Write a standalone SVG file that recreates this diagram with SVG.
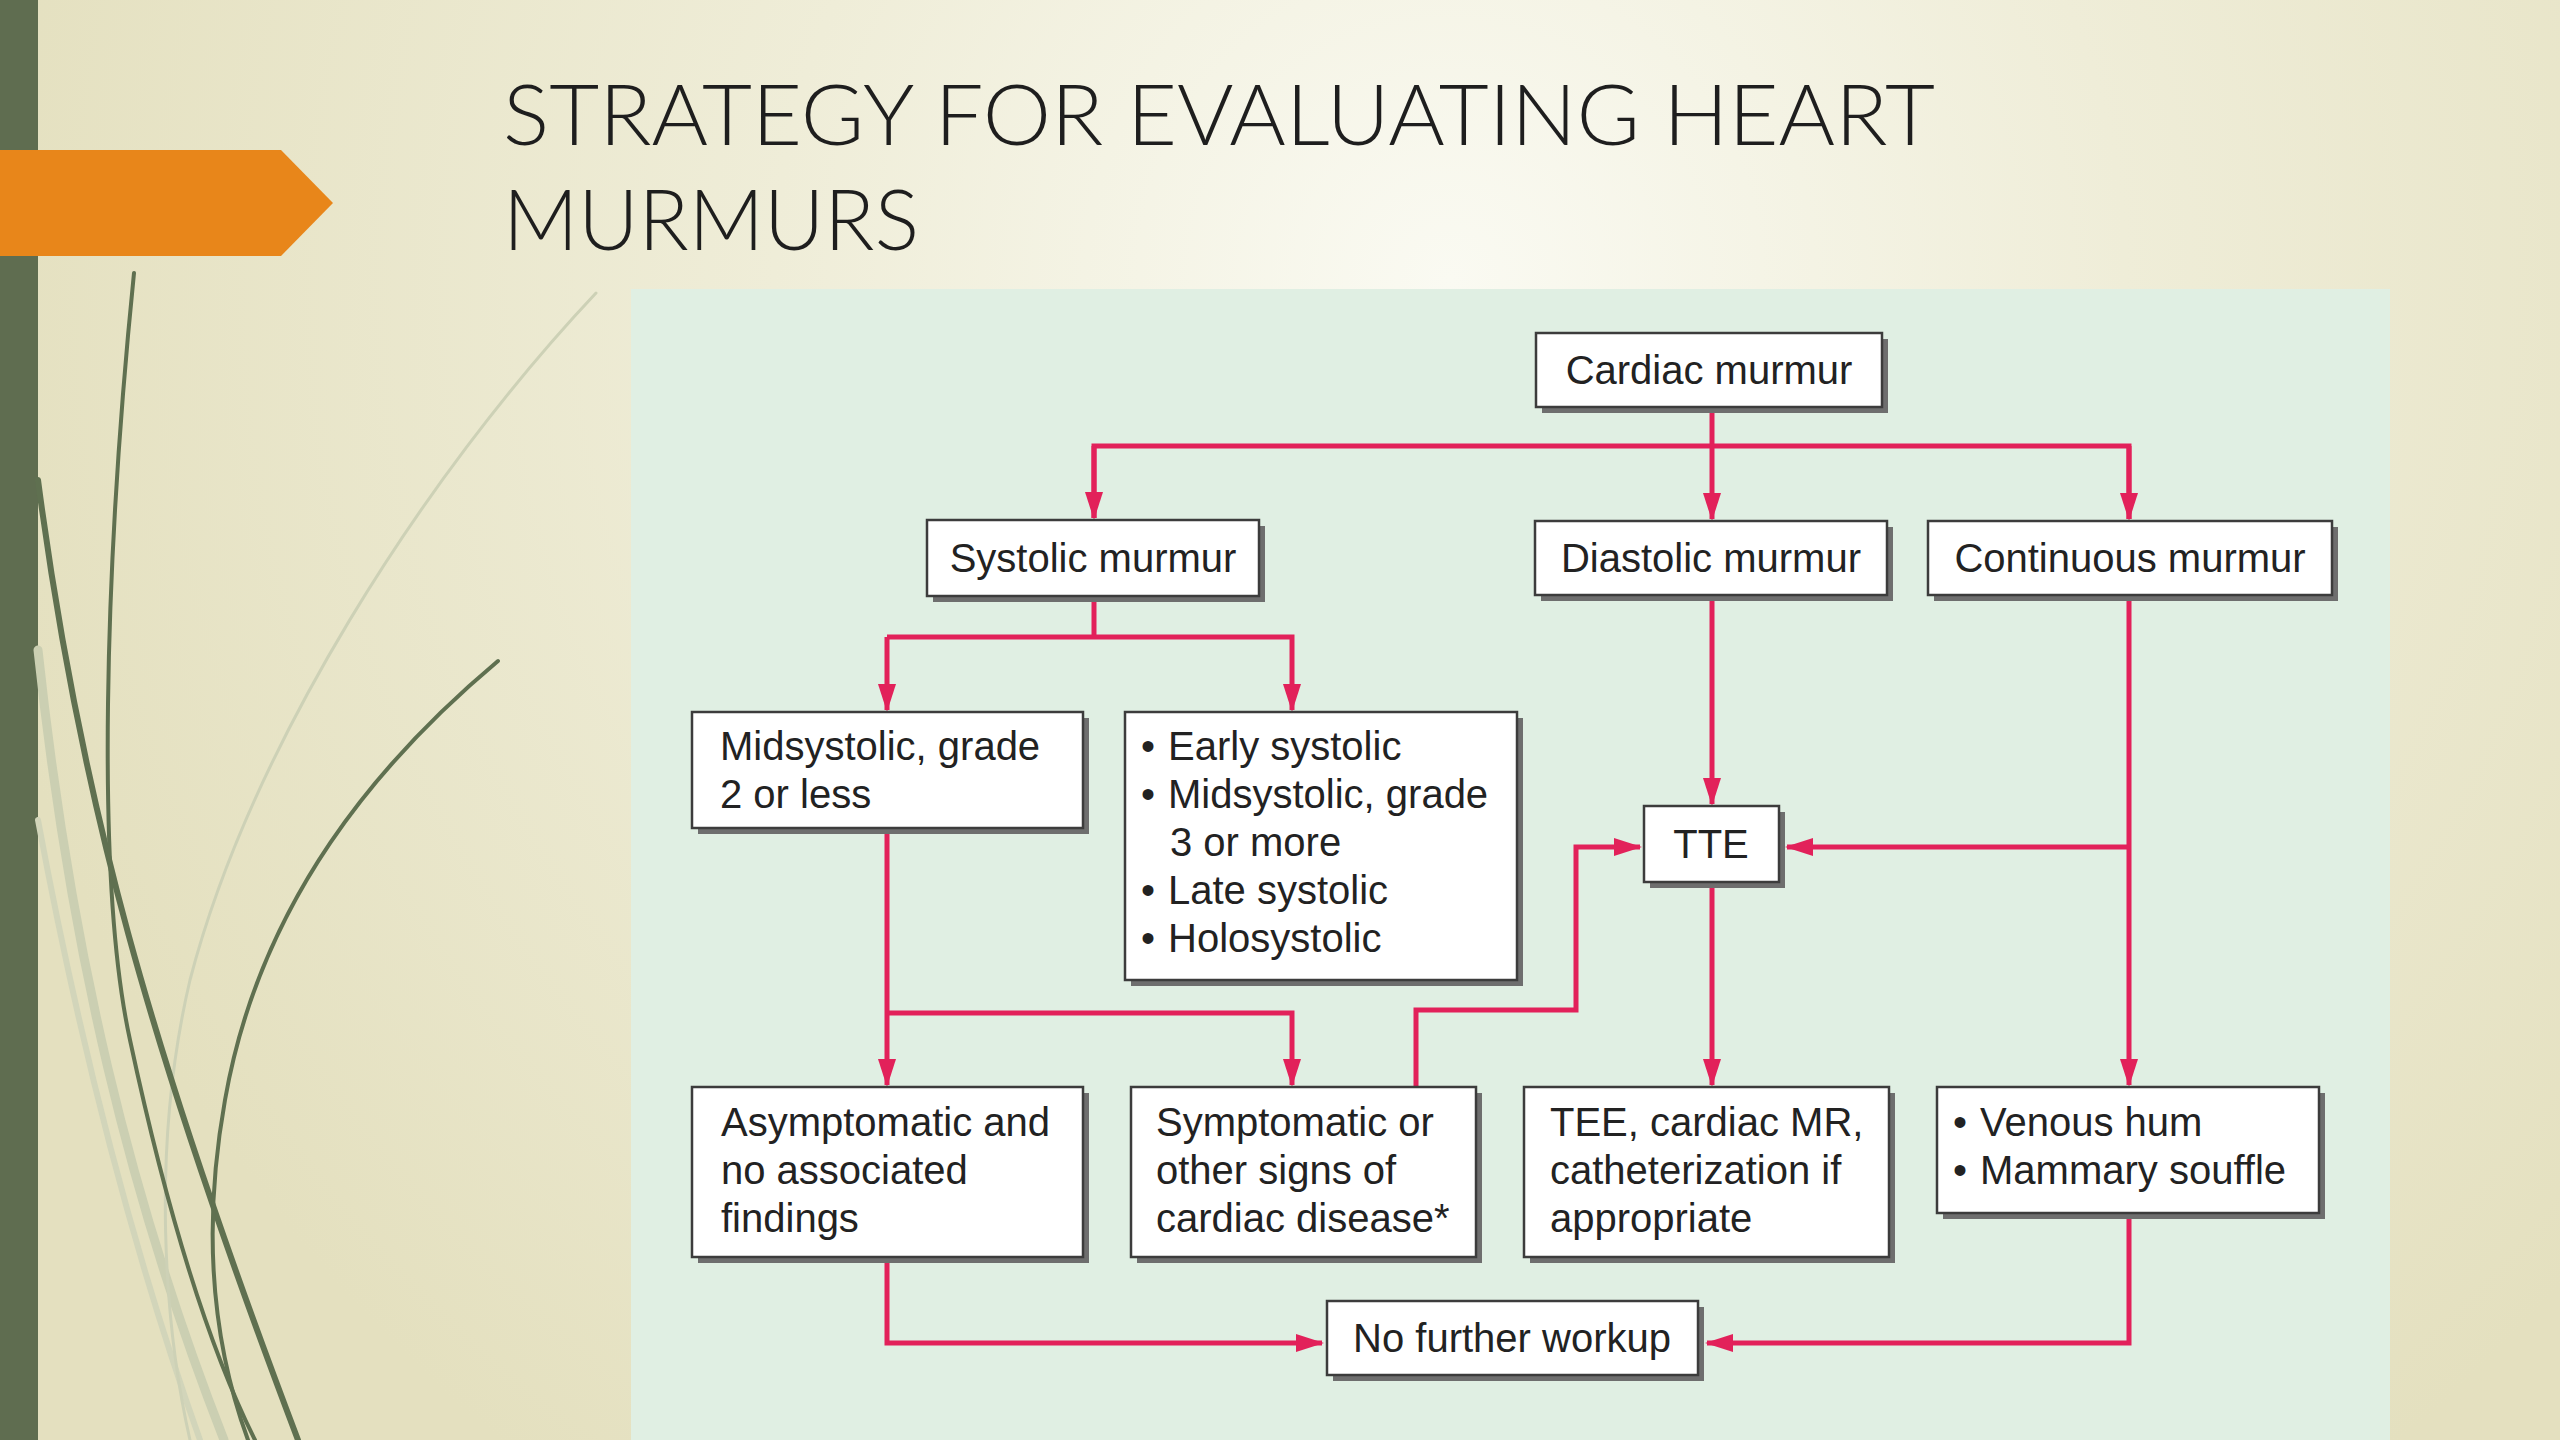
<svg xmlns="http://www.w3.org/2000/svg" width="2560" height="1440" viewBox="0 0 2560 1440">
<defs>
<radialGradient id="bg" cx="1450" cy="280" r="1500" gradientUnits="userSpaceOnUse">
<stop offset="0" stop-color="#fafaf2"/>
<stop offset="0.45" stop-color="#efedd8"/>
<stop offset="1" stop-color="#e4e0bf"/>
</radialGradient>
<marker id="ah" viewBox="0 0 28 18" markerWidth="28" markerHeight="18" refX="26" refY="9" orient="auto" markerUnits="userSpaceOnUse">
<path d="M0,0 L28,9 L0,18 Z" fill="#e2215a"/>
</marker>
<style>
.box{fill:#ffffff;stroke:#3c3c3c;stroke-width:2.5}
.sh{fill:#6e6e6e}
.t{font-family:"Liberation Sans",Arial,sans-serif;font-size:40px;fill:#222222}
.c{text-anchor:middle}
.ln{fill:none;stroke:#e2215a;stroke-width:5}
.ar{marker-end:url(#ah)}
.title{font-family:Lato,"Liberation Sans",sans-serif;font-weight:300;font-size:84px;fill:#1e1e1e}
</style>
</defs>
<rect x="0" y="0" width="2560" height="1440" fill="url(#bg)"/>
<rect x="0" y="0" width="38" height="1440" fill="#5f6d50"/>
<g id="grass" fill="none" stroke-linecap="round">
<path d="M38,650 C70,950 130,1200 224,1440" stroke="#cbcfb2" stroke-width="9"/>
<path d="M38,820 C90,1100 150,1300 200,1440" stroke="#d2d5ba" stroke-width="6"/>
<path d="M596,293 C420,480 250,750 190,980 C150,1150 165,1330 190,1440" stroke="#cdd1b6" stroke-width="3"/>
<path d="M38,480 C80,800 150,1050 298,1440" stroke="#5f7050" stroke-width="6"/>
<path d="M134,273 C105,560 95,880 130,1040 C160,1180 200,1330 255,1440" stroke="#5f7050" stroke-width="4"/>
<path d="M498,661 C380,760 260,900 225,1100 C200,1240 215,1350 248,1440" stroke="#5f7050" stroke-width="4"/>
</g>
<polygon id="tab" points="0,150 281,150 333,203 281,256 0,256" fill="#e8861a"/>
<g id="title">
<text class="title" x="503" y="145" textLength="1432" lengthAdjust="spacingAndGlyphs">STRATEGY FOR EVALUATING HEART</text>
<text class="title" x="503" y="250" textLength="416" lengthAdjust="spacingAndGlyphs">MURMURS</text>
</g>
<rect id="panel" x="631" y="289" width="1759" height="1151" fill="#e0efe3"/>
<g id="connectors">
<path class="ln" d="M1712,407 V446"/>
<path class="ln" d="M1094,518 V446 H2129 V519"/>
<path class="ln ar" d="M1094,446 V518"/>
<path class="ln ar" d="M1712,446 V519"/>
<path class="ln ar" d="M2129,446 V519"/>
<path class="ln" d="M1094,596 V637"/>
<path class="ln ar" d="M887,637 H1094 M887,637 V710"/>
<path class="ln ar" d="M1094,637 H1292 V710"/>
<path class="ln ar" d="M887,828 V1085"/>
<path class="ln ar" d="M887,1013 H1292 V1085"/>
<path class="ln ar" d="M1416,1087 V1010 H1576 V847 H1640"/>
<path class="ln ar" d="M1712,595 V804"/>
<path class="ln ar" d="M2129,595 V1085"/>
<path class="ln ar" d="M2129,847 H1787"/>
<path class="ln ar" d="M1712,882 V1085"/>
<path class="ln ar" d="M887,1257 V1343 H1322"/>
<path class="ln ar" d="M2129,1213 V1343 H1707"/>
</g>
<g id="n-cardiac">
<rect class="sh" x="1542" y="339" width="346" height="74"/>
<rect class="box" x="1536" y="333" width="346" height="74"/>
<text class="t c" x="1709" y="384">Cardiac murmur</text>
</g>
<g id="n-systolic">
<rect class="sh" x="933" y="526" width="332" height="76"/>
<rect class="box" x="927" y="520" width="332" height="76"/>
<text class="t c" x="1093" y="572">Systolic murmur</text>
</g>
<g id="n-diastolic">
<rect class="sh" x="1541" y="527" width="352" height="74"/>
<rect class="box" x="1535" y="521" width="352" height="74"/>
<text class="t c" x="1711" y="572">Diastolic murmur</text>
</g>
<g id="n-continuous">
<rect class="sh" x="1934" y="527" width="404" height="74"/>
<rect class="box" x="1928" y="521" width="404" height="74"/>
<text class="t c" x="2130" y="572">Continuous murmur</text>
</g>
<g id="n-mid2">
<rect class="sh" x="698" y="718" width="391" height="116"/>
<rect class="box" x="692" y="712" width="391" height="116"/>
<text class="t" x="720" y="760">Midsystolic, grade</text>
<text class="t" x="720" y="808">2 or less</text>
</g>
<g id="n-list">
<rect class="sh" x="1131" y="718" width="392" height="268"/>
<rect class="box" x="1125" y="712" width="392" height="268"/>
<text class="t" x="1141" y="760">•</text>
<text class="t" x="1168" y="760">Early systolic</text>
<text class="t" x="1141" y="808">•</text>
<text class="t" x="1168" y="808">Midsystolic, grade</text>
<text class="t" x="1170" y="856">3 or more</text>
<text class="t" x="1141" y="904">•</text>
<text class="t" x="1168" y="904">Late systolic</text>
<text class="t" x="1141" y="952">•</text>
<text class="t" x="1168" y="952">Holosystolic</text>
</g>
<g id="n-tte">
<rect class="sh" x="1650" y="812" width="135" height="76"/>
<rect class="box" x="1644" y="806" width="135" height="76"/>
<text class="t c" x="1711" y="858">TTE</text>
</g>
<g id="n-asym">
<rect class="sh" x="698" y="1093" width="391" height="170"/>
<rect class="box" x="692" y="1087" width="391" height="170"/>
<text class="t" x="721" y="1136">Asymptomatic and</text>
<text class="t" x="721" y="1184">no associated</text>
<text class="t" x="721" y="1232">findings</text>
</g>
<g id="n-sym">
<rect class="sh" x="1137" y="1093" width="345" height="170"/>
<rect class="box" x="1131" y="1087" width="345" height="170"/>
<text class="t" x="1156" y="1136">Symptomatic or</text>
<text class="t" x="1156" y="1184">other signs of</text>
<text class="t" x="1156" y="1232">cardiac disease*</text>
</g>
<g id="n-tee">
<rect class="sh" x="1530" y="1093" width="365" height="170"/>
<rect class="box" x="1524" y="1087" width="365" height="170"/>
<text class="t" x="1550" y="1136">TEE, cardiac MR,</text>
<text class="t" x="1550" y="1184">catheterization if</text>
<text class="t" x="1550" y="1232">appropriate</text>
</g>
<g id="n-venous">
<rect class="sh" x="1943" y="1093" width="382" height="126"/>
<rect class="box" x="1937" y="1087" width="382" height="126"/>
<text class="t" x="1953" y="1136">•</text>
<text class="t" x="1980" y="1136">Venous hum</text>
<text class="t" x="1953" y="1184">•</text>
<text class="t" x="1980" y="1184">Mammary souffle</text>
</g>
<g id="n-nofurther">
<rect class="sh" x="1333" y="1307" width="371" height="74"/>
<rect class="box" x="1327" y="1301" width="371" height="74"/>
<text class="t c" x="1512" y="1352">No further workup</text>
</g>
</svg>
